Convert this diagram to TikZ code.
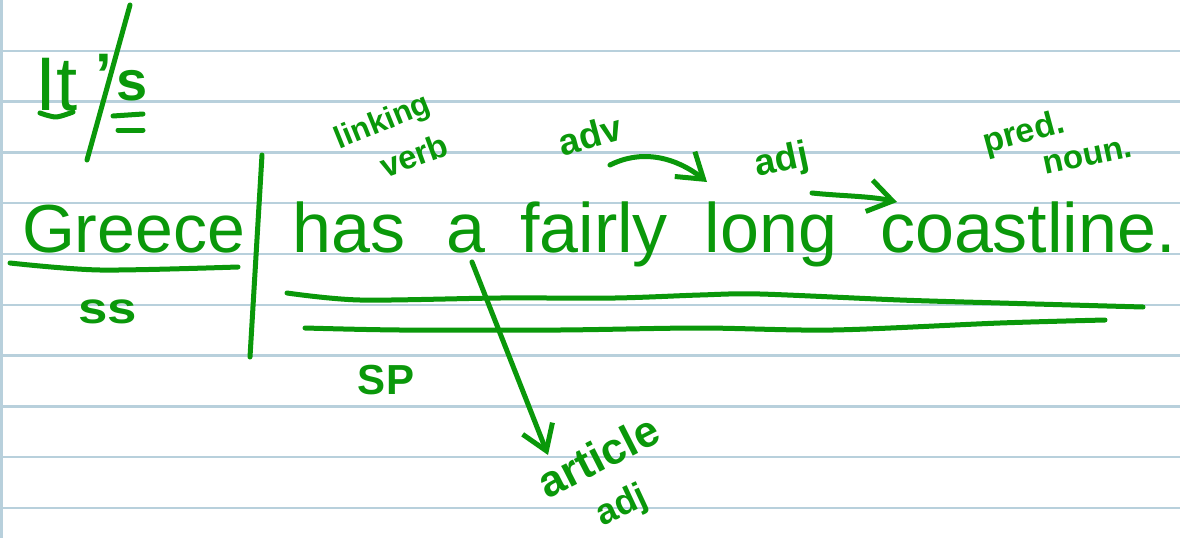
\documentclass[tikz,border=0pt]{standalone}
\usepackage{fontspec}
\setmainfont{Liberation Sans}
\usetikzlibrary{arrows.meta}
\definecolor{pen}{RGB}{10,152,10}
\definecolor{paperrule}{RGB}{184,208,220}
\newcommand\penfont[1]{\fontsize{#1}{#1}\selectfont}
\begin{document}
\begin{tikzpicture}[x=1pt,y=-1pt,
  hand/.style={text=pen, inner sep=0pt, outer sep=0pt},
  label/.style={hand, font=\bfseries},
  ink/.style={draw=pen, line width=5pt, line cap=round, line join=round},
  arr/.style={ink, -{Straight Barb[length=24pt,width=32pt,line width=5pt]}},
]
\useasboundingbox (0,0) rectangle (1180,538);
\fill[white] (0,0) rectangle (1180,538);
\foreach \k in {1,...,10} \draw[paperrule, line width=2.5pt] (0,50.8*\k) -- (1180,50.8*\k);
\draw[paperrule, line width=3pt] (1.5,0) -- (1.5,538);

% It's
\node[hand, anchor=base west, font=\penfont{76}] (it) at (35,110) {It};
\node[hand, anchor=base, font=\penfont{60}\bfseries] (apos) at (104,95) {’};
\node[hand, anchor=base west, font=\penfont{56}\bfseries] (s) at (116,100) {s};
\draw[ink] (130,5) -- (87,160);
\draw[ink] plot[smooth] coordinates {(40,113) (56,117) (73,112)};
\draw[ink] (113,116) -- (143,114);
\draw[ink] (118,130) -- (143,130);

% subject
\node[hand, anchor=base west, font=\penfont{68}] (greece) at (22,252) {Greece};
\draw[ink] plot[smooth] coordinates {(10,263) (100,270) (238,267)};
\node[label, font=\penfont{44}\bfseries] (ss) at (108,312) {\scalebox{1.2}[1]{ss}};
\draw[ink] (262,155) -- (250,357);

% predicate
\node[hand, anchor=base, font=\penfont{70}] (has) at (349,252) {has};
\node[hand, anchor=base, font=\penfont{70}] (a) at (466,252) {a};
\node[hand, anchor=base, font=\penfont{70}] (fairly) at (594,252) {fairly};
\node[hand, anchor=base, font=\penfont{70}] (long) at (771,252) {long};
\node[hand, anchor=base, font=\penfont{70}] (coast) at (1028,252) {coastline.};
\draw[ink] plot[smooth] coordinates {(287,293) (360,300) (500,298) (615,298) (700,295) (760,294) (900,300) (1000,303) (1143,307)};
\draw[ink] plot[smooth] coordinates {(305,328) (400,330) (560,330) (700,328) (833,330) (1000,323) (1105,320)};
\node[label, font=\penfont{42}\bfseries] (sp) at (386,380) {SP};

% labels
\node[label, font=\penfont{31}\bfseries, rotate=22] (link) at (383,123) {linking};
\node[label, font=\penfont{33}\bfseries, rotate=20] (verb) at (414,155) {verb};
\node[label, font=\penfont{37}\bfseries, rotate=15] (adv) at (590,135) {adv};
\node[label, font=\penfont{37}\bfseries, rotate=12] (adj) at (782,162) {adj};
\node[label, font=\penfont{34}\bfseries, rotate=15] (pred) at (1024,134) {pred.};
\node[label, font=\penfont{33}\bfseries, rotate=12] (noun) at (1088,157) {noun.};
\node[label, font=\penfont{44}\bfseries, rotate=27] (article) at (598,456) {article};
\node[label, font=\penfont{36}\bfseries, rotate=25] (adjb) at (622,507) {adj};

% arrows
\coordinate (advT) at (610,165);
\coordinate (advH) at (707,182);
\draw[arr] (advT) .. controls (650,145) and (686,165) .. (advH);
\coordinate (adjT) at (812,193);
\coordinate (adjH) at (897,202);
\draw[arr] (adjT) .. controls (840,196) and (870,196) .. (adjH);
\coordinate (aT) at (472,262);
\coordinate (aH) at (548,455);
\draw[arr] (aT) -- (aH);
\end{tikzpicture}
\end{document}
